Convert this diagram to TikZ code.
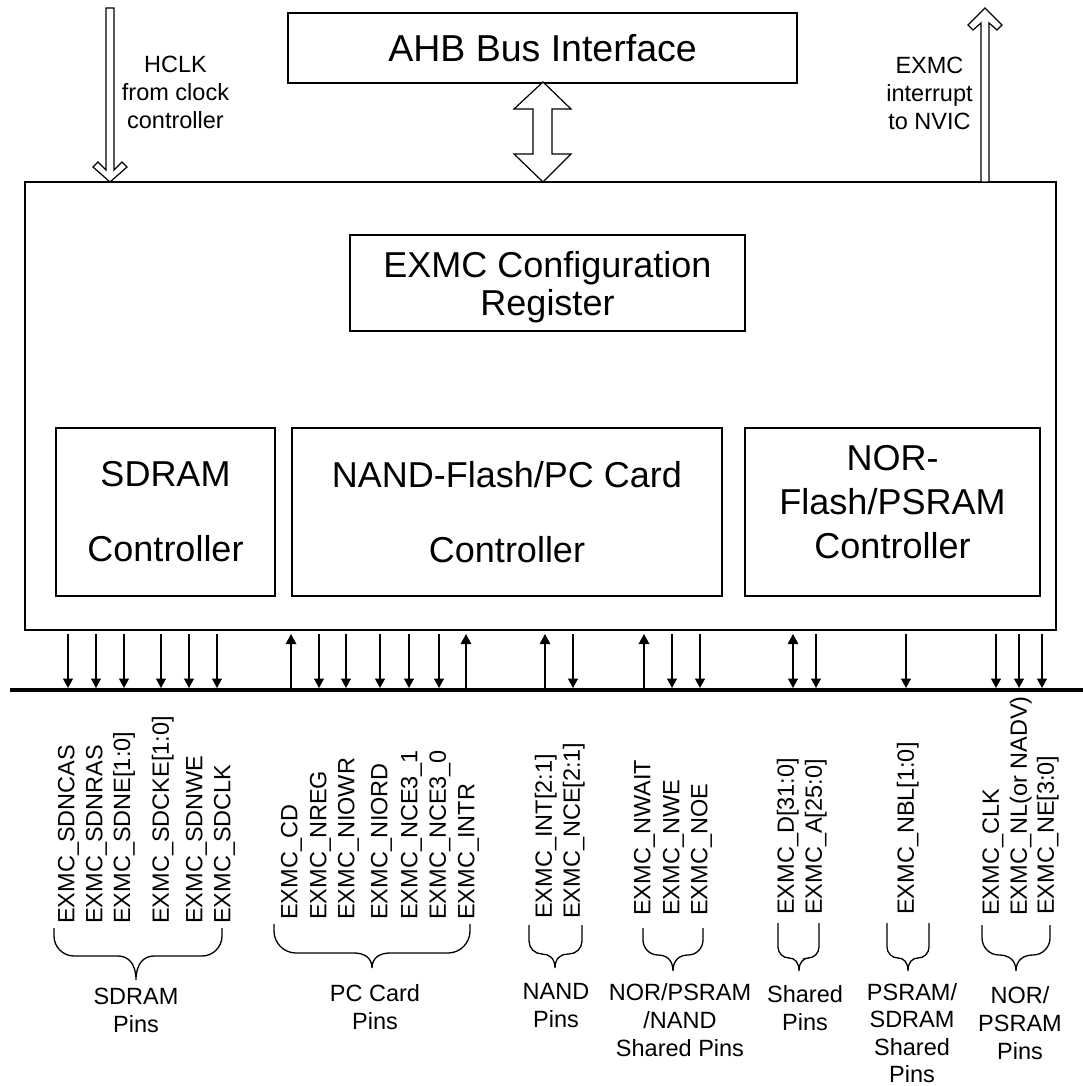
\documentclass[tikz,border=0pt]{standalone}
\usepackage{fontspec}
\setmainfont{Liberation Sans}
\usetikzlibrary{arrows.meta}
\newcommand\drawbrace[8]{%
  \draw[brc] (#1,#3) -- (#1,#4-#7)
    .. controls (#1,#4-0.45*#7) and (#1+0.45*#7,#4) .. (#1+#7,#4) -- (#6-#8,#4)
    .. controls (#6-0.45*#8,#4) and (#6,#4+0.3*#5-0.3*#4) .. (#6,#5)
    .. controls (#6,#4+0.3*#5-0.3*#4) and (#6+0.45*#8,#4) .. (#6+#8,#4) -- (#2-#7,#4)
    .. controls (#2-0.45*#7,#4) and (#2,#4-0.45*#7) .. (#2,#4-#7) -- (#2,#3);}
\begin{document}
\begin{tikzpicture}[x=1pt,y=-1pt,
  box/.style={draw, line width=1.3pt, inner sep=0pt, align=center, font=\fontsize{36}{44}\selectfont},
  pinlbl/.style={rotate=90, anchor=base west, inner sep=0pt, font=\fontsize{23.5}{28}\selectfont},
  grplbl/.style={align=center, inner sep=0pt, anchor=north, font=\fontsize{23.5}{28}\selectfont},
  sidelbl/.style={align=center, inner sep=0pt, anchor=north, font=\fontsize{23.5}{28}\selectfont},
  pinout/.style={line width=1.3pt, -{Triangle[width=10pt,length=9.5pt]}},
  pinin/.style={line width=1.3pt, {Triangle[width=10.5pt,length=10pt]}-},
  pinbi/.style={line width=1.3pt, {Triangle[width=10.5pt,length=10pt]}-{Triangle[width=10pt,length=9.5pt]}},
  hollow/.style={draw, line width=1.2pt, fill=white, line join=miter},
  busline/.style={line width=4pt},
  brc/.style={line width=1.3pt}
]
\useasboundingbox (0,0) rectangle (1083,1086);

% boxes
\node[box, minimum width=509pt, minimum height=70pt, font=\fontsize{37.5}{44}\selectfont] (ahb) at (542.5,48) {AHB Bus Interface};
\node[box, minimum width=1031pt, minimum height=448pt] (main) at (540.5,406) {};
\node[box, minimum width=395pt, minimum height=96pt, font=\fontsize{36}{38}\selectfont, text depth=-4pt] (cfg) at (547.5,283) {EXMC Configuration\\Register};
\node[box, minimum width=219pt, minimum height=168pt] (sdc) at (165.5,512) {SDRAM\\[31pt]Controller};
\node[box, minimum width=430pt, minimum height=168pt] (nandc) at (507,512) {NAND-Flash/PC Card\\[31pt]Controller};
\node[box, minimum width=295pt, minimum height=168pt, text depth=20pt] (norc) at (892.5,512) {NOR-\\Flash/PSRAM\\Controller};

% hollow arrows
\draw[hollow] (106,8) -- (106,170) -- (98,162) -- (93,167) -- (110,182) -- (127,167) -- (122,162) -- (114,170) -- (114,8) -- cycle;
\draw[hollow] (981,182) -- (981,23) -- (973,30) -- (968,25) -- (985,8) -- (1002,25) -- (997,30) -- (989,23) -- (989,182) -- cycle;
\draw[hollow] (543,82) -- (571,109) -- (552,109) -- (552,154) -- (571,154) -- (543,182) -- (514,154) -- (533,154) -- (533,109) -- (514,109) -- cycle;

\node[sidelbl] (hclk) at (175.5,56) {HCLK\\from clock\\controller};
\node[sidelbl] (irq) at (929.5,56.5) {EXMC\\interrupt\\to NVIC};

% bus
\coordinate (busL) at (10,690);
\coordinate (busR) at (1083,690);
\draw[busline] (busL) -- (busR);
\coordinate (rowT) at (0,634);
\coordinate (rowB) at (0,688);

\foreach \nm/\ax/\lx/\ly/\dir/\txt in {
  sdncas/68/66/924/out/SDNCAS, sdnras/96/94/924/out/SDNRAS, sdne/124/121.6/924/out/SDNE[1:0],
  sdcke/161/160.5/924/out/SDCKE[1:0], sdnwe/189/194/924/out/SDNWE, sdclk/217/222/924/out/SDCLK,
  cd/291/289/920/in/CD, nreg/319/318/920/out/NREG, niowr/346/346/920/out/NIOWR,
  niord/380/379/920/out/NIORD, ncea/409/409/920/out/NCE3\_1, nceb/439/437.5/920/out/NCE3\_0,
  intr/466/466/920/in/INTR,
  int/545/543.5/919/in/INT[2:1], nce/573/571.5/919/out/NCE[2:1],
  nwait/644/642/916/in/NWAIT, nwe/672/671/916/out/NWE, noe/700/699/916/out/NOE,
  dat/793/785.5/915/bi/D[31:0], adr/816/813.5/915/out/A[25:0],
  nbl/906/905.5/915/out/NBL[1:0],
  clk/996/990.5/916/out/CLK, nl/1019/1018.5/916/out/NL(or NADV), ne/1042/1045.5/915/out/NE[3:0]}
{
  \coordinate (p\nm) at (\ax,0);
  \draw[pin\dir] (rowT -| p\nm) -- (rowB -| p\nm);
  \node[pinlbl] (l\nm) at (\lx+8.4,\ly) {EXMC\_\txt};
}

% braces
\drawbrace{54}{222}{928}{956}{980}{136}{20}{18}
\drawbrace{274}{470}{924}{953}{968}{372}{22}{18}
\drawbrace{529}{582}{925}{954}{968}{555}{13}{13}
\drawbrace{643}{703}{928}{955}{971}{673}{15}{15}
\drawbrace{778}{819}{923}{958}{971}{799}{11}{10}
\drawbrace{887}{929}{923}{958}{971}{908}{11}{10}
\drawbrace{982}{1050}{925}{955}{971}{1016}{17}{17}

% group labels
\node[grplbl] (gsd) at (136,988) {SDRAM\\Pins};
\node[grplbl] (gpc) at (375,984) {PC Card\\Pins};
\node[grplbl] (gnand) at (556,983) {NAND\\Pins};
\node[grplbl] (gnpn) at (680,983) {NOR/PSRAM\\/NAND\\Shared Pins};
\node[grplbl] (gsh) at (805,985) {Shared\\Pins};
\node[grplbl, font=\fontsize{23.5}{27.5}\selectfont] (gps) at (912,983) {PSRAM/\\SDRAM\\Shared\\Pins};
\node[grplbl] (gnor) at (1020,986) {NOR/\\PSRAM\\Pins};
\end{tikzpicture}
\end{document}
